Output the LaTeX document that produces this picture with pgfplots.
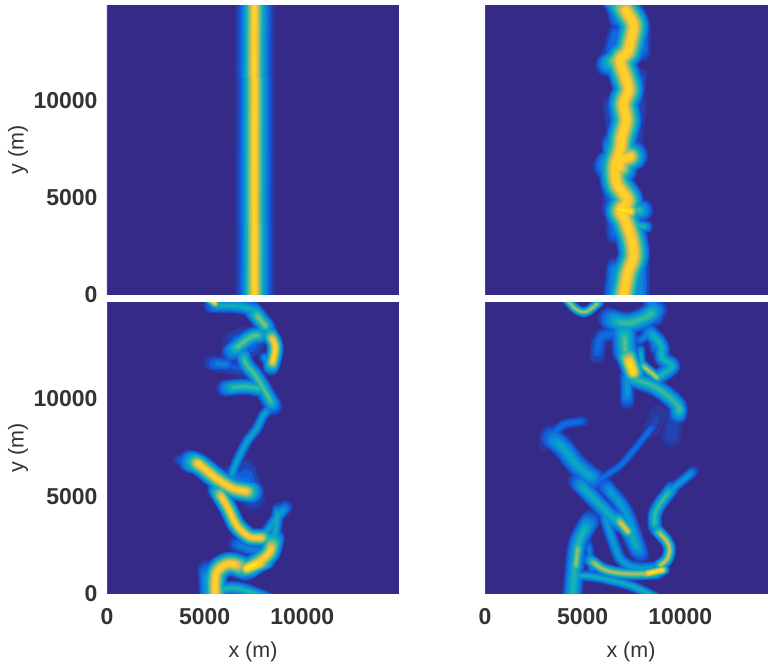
\documentclass[border=0pt]{standalone}
\usepackage{fontspec}
\setmainfont{Liberation Sans}
\usepackage{pgfplots}
\pgfplotsset{compat=1.18}
\definecolor{bgc}{RGB}{53,42,135}
\definecolor{l01}{RGB}{44,54,155}
\definecolor{l02}{RGB}{34,67,178}
\definecolor{l03}{RGB}{15,92,221}
\definecolor{l04}{RGB}{16,108,219}
\definecolor{l05}{RGB}{18,125,216}
\definecolor{l06}{RGB}{12,140,212}
\definecolor{l07}{RGB}{7,156,207}
\definecolor{l08}{RGB}{14,167,194}
\definecolor{l09}{RGB}{21,177,180}
\definecolor{l10}{RGB}{55,183,160}
\definecolor{l11}{RGB}{89,189,140}
\definecolor{l12}{RGB}{127,190,124}
\definecolor{l13}{RGB}{165,190,107}
\definecolor{l14}{RGB}{210,190,85}
\definecolor{l15}{RGB}{250,190,60}
\definecolor{l16}{RGB}{250,200,50}
\definecolor{l17}{RGB}{252,210,40}
\definecolor{l18}{RGB}{252,240,20}
\pgfplotsset{
  colormap={parula}{rgb255(0)=(53,42,135) rgb255(1)=(15,92,221) rgb255(2)=(18,125,216) rgb255(3)=(7,156,207) rgb255(4)=(21,177,180) rgb255(5)=(89,189,140) rgb255(6)=(165,190,107) rgb255(7)=(250,190,60) rgb255(8)=(250,250,15)},
  panel/.style={
    scale only axis, width=292pt,
    xmin=0, xmax=14950, ymin=0, ymax=14950,
    xtick={0,5000,10000}, ytick={0,5000,10000},
    major tick length=0pt,
    axis on top, axis background/.style={fill=bgc},
    axis x line*=bottom, axis y line*=left,
    axis line style={-,color=black!70,line width=0.6pt},
    tick label style={font=\fontsize{23}{24}\selectfont\bfseries, text=black!80},
    /pgf/number format/1000 sep={}, /pgf/number format/assume math mode=true,
    scaled ticks=false,
    xticklabel style={yshift=-11pt}, yticklabel style={xshift=-6pt},
    label style={font=\fontsize{21.5}{24}\selectfont, text=black!80},
    xlabel style={at={(axis description cs:0.5,-0.199)},anchor=center},
    ylabel style={at={(axis description cs:-0.305,0.5)},anchor=center},
  }
}
\newcommand\F[3]{%
  \pgfmathsetmacro\pp{1.13*#2}%
  \ifdim \pp pt>\lev pt
    \pgfmathsetmacro\w{4.0*#1*pow(1-\lev/\pp,0.8)}%
    \pgfmathsetmacro\t{2.2*#1*\lev/\pp}%
    \edef\tmp{\noexpand\addplot[line width=\w pt, color=\levcol, smooth, mark=none, forget plot, line cap=round, line join=round, shorten >=\t pt, shorten <=\t pt] coordinates {#3};}%
    \tmp
  \fi}
\newcommand\LevelDraw[2]{\def\lev{#1}\def\levcol{#2}\Fils}
\newcommand\AllLevels{%
  \LevelDraw{0.03}{l01}\LevelDraw{0.0625}{l02}\LevelDraw{0.125}{l03}\LevelDraw{0.1875}{l04}%
  \LevelDraw{0.25}{l05}\LevelDraw{0.3125}{l06}\LevelDraw{0.375}{l07}\LevelDraw{0.4375}{l08}%
  \LevelDraw{0.5}{l09}\LevelDraw{0.5625}{l10}\LevelDraw{0.625}{l11}\LevelDraw{0.6875}{l12}%
  \LevelDraw{0.75}{l13}\LevelDraw{0.8125}{l14}\LevelDraw{0.875}{l15}\LevelDraw{0.92}{l16}\LevelDraw{0.97}{l17}\LevelDraw{1.09}{l18}}
\begin{document}
\begin{tikzpicture}[x=1pt,y=1pt]
\path[use as bounding box, clip] (0,0) rectangle (768pt,666pt);
% top left
\begin{axis}[panel, at={(107pt,371pt)}, anchor=south west, height=290pt, xticklabels={}, ylabel={y (m)}, view={0}{90}, colormap name=parula, point meta min=0, point meta max=1]
\addplot3[surf, shader=interp, mesh/rows=2, forget plot] table {
0 0 0
6440 0 0
6540 0 0.02
6640 0 0.05
6740 0 0.10
6840 0 0.17
6940 0 0.26
7040 0 0.36
7140 0 0.48
7240 0 0.62
7340 0 0.78
7440 0 0.90
7540 0 0.93
7640 0 0.90
7740 0 0.78
7840 0 0.62
7940 0 0.48
8040 0 0.36
8140 0 0.26
8240 0 0.17
8340 0 0.10
8440 0 0.05
8540 0 0.02
8640 0 0
14950 0 0
0 14950 0
6440 14950 0
6540 14950 0.02
6640 14950 0.05
6740 14950 0.10
6840 14950 0.17
6940 14950 0.26
7040 14950 0.36
7140 14950 0.48
7240 14950 0.62
7340 14950 0.78
7440 14950 0.90
7540 14950 0.93
7640 14950 0.90
7740 14950 0.78
7840 14950 0.62
7940 14950 0.48
8040 14950 0.36
8140 14950 0.26
8240 14950 0.17
8340 14950 0.10
8440 14950 0.05
8540 14950 0.02
8640 14950 0
14950 14950 0
};
\end{axis}
% top right
\begin{axis}[panel, at={(485pt,371pt)}, anchor=south west, height=290pt, xticklabels={}, yticklabels={}]
\def\Fils{%
\F{8.5}{0.95}{(6800,15300)(7300,14510)(7610,13910)(7470,13140)(7300,12530)(6920,12100)(7180,11240)(7350,10560)(7090,9870)(7230,9010)(7010,8150)(6920,7460)(6670,6690)(6750,5740)(7300,4880)(6920,4360)(7180,3850)(7520,2820)(7610,1960)(7300,1100)(7000,-600)}%
\F{8}{0.95}{(6300,6650)(7600,7200)}%
\F{9}{0.92}{(6840,7800)(6920,6400)}%
\F{6}{1.0}{(6700,4450)(7500,4300)}%
\F{6}{0.8}{(6200,11850)(7300,12400)}%
\F{6}{0.28}{(7950,13800)(7950,12500)}%
\F{4}{0.2}{(7950,11400)(7860,10600)}%
\F{6}{0.55}{(6500,4450)(8100,4360)}%
\F{3.5}{0.5}{(7200,3720)(8300,3500)}%
\F{5}{0.32}{(7950,1600)(7950,-300)}%
\F{5}{0.32}{(6490,-300)(6670,1500)}%
\F{5}{0.22}{(6150,6600)(6490,4900)}%
\F{5}{0.22}{(6490,5000)(6670,3000)}%
\F{5}{0.32}{(6490,15200)(6840,14100)}%
\F{5}{0.22}{(6410,12300)(6750,13600)}%
\F{4}{0.09}{(8000,10100)(7800,7900)}%
\F{4}{0.13}{(6350,10000)(6500,8600)}%
}
\AllLevels
\end{axis}
% bottom left
\begin{axis}[panel, at={(107pt,72pt)}, anchor=south west, height=292pt, xlabel={x (m)}, ylabel={y (m)}]
\def\Fils{%
\F{3}{0.9}{(5000,15300)(5615,14809)}%
\F{4.2}{0.45}{(5300,14775)(6814,14723)(7584,14466)(8098,13782)(8355,13182)}%
\F{5}{0.65}{(7400,14600)(8200,13600)}%
\F{4.5}{0.92}{(8269,13400)(8611,12583)(8389,11600)}%
\F{3}{0.35}{(8389,11727)(8012,12155)}%
\F{5}{0.6}{(6300,12326)(6814,12754)(7413,13182)(8000,13250)}%
\F{9}{0.22}{(6600,12700)(7300,12900)}%
\F{4.5}{0.58}{(6899,12412)(7156,11727)(7584,11214)(8012,10529)(8526,9587)}%
\F{5}{0.13}{(5444,11813)(6471,11642)(7156,11470)}%
\F{4}{0.27}{(5300,11813)(6200,11750)}%
\F{4.5}{0.55}{(6000,10529)(7156,10614)(8012,10443)}%
\F{5}{0.45}{(8012,10443)(8526,9587)}%
\F{3}{0.4}{(8350,9502)(8012,9159)(7670,8474)(7156,7790)(6643,6762)(6300,5906)}%
\F{6}{0.9}{(4200,6800)(4759,6591)(5615,5906)(6471,5393)(7500,5200)}%
\F{3}{0.22}{(3600,6848)(4700,6934)}%
\F{7}{0.2}{(6985,6420)(7242,5564)(7499,4794)}%
\F{8}{0.27}{(6300,5900)(6985,5500)}%
\F{5}{0.9}{(5600,5400)(6215,4366)(6643,3510)(7327,2910)(8200,2910)}%
\F{3.5}{0.4}{(9200,4500)(8526,3681)(8012,2910)}%
\F{3.5}{0.45}{(8783,4400)(8526,2600)}%
\F{4}{0.27}{(8697,2568)(7670,2226)(6500,2600)}%
\F{6}{0.9}{(8526,2900)(8183,1969)(7156,1284)}%
\F{5}{1.05}{(8200,1750)(7000,1250)}%
\F{6.5}{0.92}{(7156,1284)(6215,1541)(5615,1113)(5530,257)(5615,-600)}%
\F{4}{0.5}{(5444,171)(6814,257)(8300,-300)}%
\F{5}{0.4}{(5102,1300)(5187,-500)}%
}
\AllLevels
\end{axis}
% bottom right
\begin{axis}[panel, at={(485pt,72pt)}, anchor=south west, height=292pt, xlabel={x (m)}, yticklabels={}]
\def\Fils{%
\F{2.8}{0.7}{(4100,15200)(4708,14552)(5222,14466)(5900,15000)}%
\F{5}{0.32}{(8474,15300)(8731,14100)}%
\F{6}{0.55}{(6300,14100)(7276,13867)(8132,14124)(8800,14600)}%
\F{4.5}{0.2}{(5735,12100)(5992,13182)(6900,13300)}%
\F{7}{0.58}{(7105,13800)(7190,12300)}%
\F{6}{1.0}{(7200,12400)(7650,11200)}%
\F{4}{0.36}{(7276,9800)(7276,11200)}%
\F{5}{0.55}{(7300,11100)(8817,10529)(9844,9673)(9844,9100)}%
\F{4.5}{0.48}{(8303,13500)(8988,12754)(9074,12070)(9587,11642)(8600,10950)}%
\F{3}{0.75}{(7950,11800)(8900,11000)}%
\F{3}{0.27}{(7790,12926)(8474,13182)(8731,12412)}%
\F{2.5}{0.45}{(7961,12600)(8046,11500)}%
\F{6}{0.1}{(9844,9700)(9502,7900)}%
\F{6}{0.07}{(8988,9500)(8474,8300)}%
\F{2.5}{0.22}{(8600,8600)(7961,7790)(6934,6591)(5700,5750)}%
\F{3}{0.22}{(5100,8850)(3852,8560)(3300,7600)}%
\F{6}{0.42}{(3300,8100)(4023,7447)(4708,6591)(5700,5800)}%
\F{4}{0.09}{(2900,7600)(3500,7700)}%
\F{5}{0.45}{(4700,5800)(5735,4708)(6762,3681)(7276,3338)(7900,2100)}%
\F{4}{0.8}{(6700,3950)(7400,3100)}%
\F{4.5}{0.38}{(6100,5600)(7105,4366)(7533,3338)(8000,1950)}%
\F{3}{0.36}{(10700,6300)(9502,5307)}%
\F{4}{0.55}{(9600,5450)(8731,4194)(8731,3338)}%
\F{3.5}{0.75}{(8731,3338)(9416,2482)(9330,1798)(8817,1370)}%
\F{3.5}{0.38}{(8900,1370)(7618,1370)(6934,1798)(6506,2825)(6100,4100)}%
\F{3.5}{0.72}{(5300,1800)(6249,1198)(7447,1027)(8900,1079)}%
\F{3}{1.0}{(8100,1000)(9200,1250)}%
\F{5.5}{0.5}{(5400,3800)(4794,2654)(4622,1626)(4451,-500)}%
\F{4}{0.68}{(4800,2700)(4622,1300)}%
\F{2.5}{0.27}{(5307,2600)(5478,1100)}%
\F{3}{0.45}{(4400,942)(5735,856)(7447,428)(8800,-200)}%
}
\AllLevels
\end{axis}
\fill[white] (100pt,661pt) rectangle (768pt,666pt);
\fill[white] (100pt,364pt) rectangle (768pt,370.6pt);
\fill[white] (100pt,60pt) rectangle (768pt,71.6pt);
\end{tikzpicture}
\end{document}
